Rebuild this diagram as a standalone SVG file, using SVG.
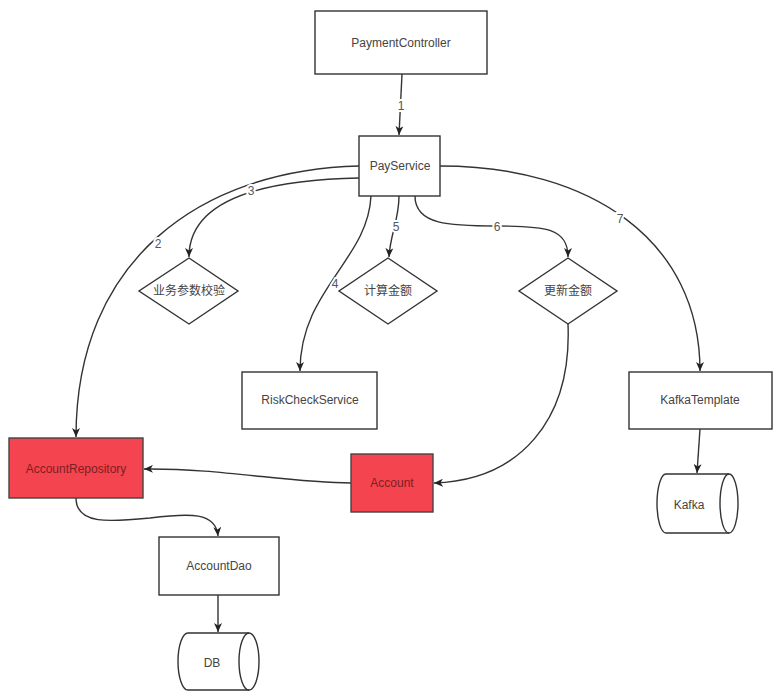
<svg xmlns="http://www.w3.org/2000/svg" width="778" height="692" viewBox="0 0 778 692">
<defs>
<marker id="arr" markerWidth="10" markerHeight="8" refX="9" refY="4" orient="auto" markerUnits="userSpaceOnUse">
<path d="M0,0 L9,4 L0,8 L2.5,4 Z" fill="#222"/>
</marker>
<style>
.box{fill:#fff;stroke:#333;stroke-width:1.4}
.red{fill:#f4444f;stroke:#444;stroke-width:1.4}
.t{font-family:"Liberation Sans","Noto Sans CJK SC",sans-serif;font-size:12px;fill:#444;text-anchor:middle;dominant-baseline:central}
.tr{fill:#7d1e22}
.c{fill:none;stroke:#333;stroke-width:1.4;marker-end:url(#arr)}
.lbl{font-family:"Liberation Sans",sans-serif;font-size:12px;fill:#555;text-anchor:middle;dominant-baseline:central;stroke:#fff;stroke-width:4;paint-order:stroke}
</style>
</defs>
<rect width="778" height="692" fill="#fff"/>
<g id="connectors">
<path class="c" d="M402,74 L399,135"/>
<path class="c" d="M359,166 C200,170 76,260 76,437"/>
<path class="c" d="M359,178 C260,180 189,200 189,257"/>
<path class="c" d="M371,196 C368,260 300,290 300,371"/>
<path class="c" d="M399,196 C399,220 390,235 389,257"/>
<path class="c" d="M415,196 C415,225 450,226 497,226 C545,226 568,228 568,257"/>
<path class="c" d="M440,166 C590,166 700,240 700,371"/>
<path class="c" d="M568,324 C572,420 520,480 434,483"/>
<path class="c" d="M351,483 C290,483 220,468 144,469"/>
<path class="c" d="M76,498 C76,525 110,522 150,518 C190,513 216,512 218,536"/>
<path class="c" d="M218,595 L218,632"/>
<path class="c" d="M700,429 L697,473"/>
<text class="lbl" x="401" y="106">1</text>
<text class="lbl" x="158" y="244">2</text>
<text class="lbl" x="251" y="191">3</text>
<text class="lbl" x="335" y="284">4</text>
<text class="lbl" x="396" y="227">5</text>
<text class="lbl" x="497" y="227">6</text>
<text class="lbl" x="620" y="219">7</text>
</g>
<g id="PaymentController"><rect class="box" x="315" y="11" width="172" height="63"/><text class="t" x="401" y="43">PaymentController</text></g>
<g id="PayService"><rect class="box" x="359" y="136" width="81" height="60"/><text class="t" x="400" y="166">PayService</text></g>
<g id="check"><polygon class="box" points="189,258 238,291 189,324 139,291"/><text class="t" x="189" y="291">业务参数校验</text></g>
<g id="calc"><polygon class="box" points="388,258 437,291 388,324 339,291"/><text class="t" x="388" y="291">计算金额</text></g>
<g id="update"><polygon class="box" points="568,258 617,291 568,324 519,291"/><text class="t" x="568" y="291">更新金额</text></g>
<g id="RiskCheckService"><rect class="box" x="242" y="372" width="135" height="57"/><text class="t" x="310" y="400">RiskCheckService</text></g>
<g id="KafkaTemplate"><rect class="box" x="629" y="372" width="143" height="57"/><text class="t" x="700" y="400">KafkaTemplate</text></g>
<g id="AccountRepository"><rect class="red" x="9" y="438" width="134" height="60"/><text class="t tr" x="76" y="469">AccountRepository</text></g>
<g id="Account"><rect class="red" x="351" y="454" width="82" height="58"/><text class="t tr" x="392" y="483">Account</text></g>
<g id="AccountDao"><rect class="box" x="159" y="537" width="120" height="58"/><text class="t" x="219" y="566">AccountDao</text></g>
<g id="Kafka">
<path class="box" d="M666,474 H729 A9,29.5 0 0 1 729,533 H666 A9,29.5 0 0 1 666,474 Z"/>
<path class="box" style="fill:none" d="M729,474 A9,29.5 0 0 0 729,533"/>
<text class="t" x="689" y="505">Kafka</text>
</g>
<g id="DB">
<path class="box" d="M188,633 H249 A10,28.5 0 0 1 249,690 H188 A10,28.5 0 0 1 188,633 Z"/>
<path class="box" style="fill:none" d="M249,633 A10,28.5 0 0 0 249,690"/>
<text class="t" x="212" y="663">DB</text>
</g>
</svg>
